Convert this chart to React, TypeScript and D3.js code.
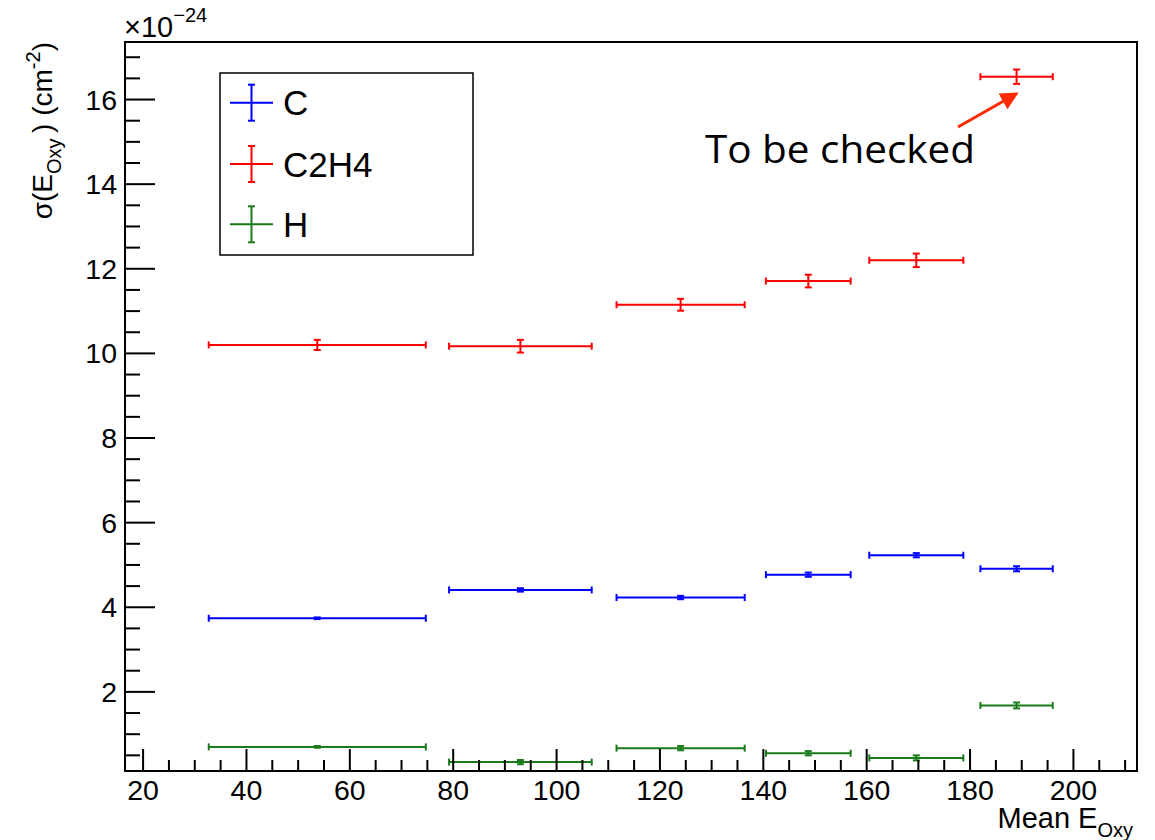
import React from "react";
import * as d3 from "d3";

const xCenters = [53.7, 93.0, 124.0, 148.7, 169.6, 189.0];
const xHalfWidths = [21.0, 13.8, 12.4, 8.2, 9.1, 7.0];

const cValues = [3.74, 4.41, 4.23, 4.77, 5.23, 4.91];
const cErrors = [0.02, 0.04, 0.04, 0.05, 0.05, 0.06];
const c2h4Values = [10.2, 10.17, 11.15, 11.71, 12.2, 16.54];
const c2h4Errors = [0.12, 0.15, 0.14, 0.15, 0.16, 0.17];
const hValues = [0.7, 0.34, 0.67, 0.55, 0.44, 1.68];
const hErrors = [0.02, 0.05, 0.05, 0.05, 0.06, 0.07];

const seriesNames = ["C", "C2H4", "H"];
const seriesColors = ["#0000ff", "#ff0000", "#1a7a1a"];

const xMajorTicks = [20, 40, 60, 80, 100, 120, 140, 160, 180, 200];
const yMajorTicks = [2, 4, 6, 8, 10, 12, 14, 16];

const W = 1155;
const H = 840;
const FONT = "'Liberation Sans', Arial, Helvetica, sans-serif";

export default function App() {
  const left = 125, right = 1137, top = 42, bottom = 771;
  const x = d3.scaleLinear().domain([16.5, 212.3]).range([left, right]);
  const y = d3.scaleLinear().domain([0.13, 17.36]).range([bottom, top]);

  const xMinor = d3.range(20, 211, 5).filter((v) => v % 20 !== 0);
  const yMinor = d3.range(0.5, 17.3, 0.5).filter((v) => v % 2 !== 0);

  const series = [
    { values: cValues, errors: cErrors },
    { values: c2h4Values, errors: c2h4Errors },
    { values: hValues, errors: hErrors },
  ];

  const cap = 3.5;
  const sw = 2;

  return (
    <svg
      width={W}
      height={H}
      style={{ position: "absolute", left: 0, top: 0, background: "#fff" }}
      fontFamily={FONT}
    >
      <rect x={0} y={0} width={W} height={H} fill="#fff" />
      {series.map((s, si) => (
        <g key={si} stroke={seriesColors[si]} strokeWidth={sw} fill="none">
          {s.values.map((v, i) => {
            const cx = x(xCenters[i]);
            const x0 = x(xCenters[i] - xHalfWidths[i]);
            const x1 = x(xCenters[i] + xHalfWidths[i]);
            const cy = y(v);
            const y0 = y(v - s.errors[i]);
            const y1 = y(v + s.errors[i]);
            return (
              <g key={i}>
                <line x1={x0} x2={x1} y1={cy} y2={cy} />
                <line x1={x0} x2={x0} y1={cy - cap} y2={cy + cap} />
                <line x1={x1} x2={x1} y1={cy - cap} y2={cy + cap} />
                <line x1={cx} x2={cx} y1={y0} y2={y1} />
                <line x1={cx - cap} x2={cx + cap} y1={y0} y2={y0} />
                <line x1={cx - cap} x2={cx + cap} y1={y1} y2={y1} />
              </g>
            );
          })}
        </g>
      ))}

      <rect x={left} y={top} width={right - left} height={bottom - top} fill="none" stroke="#000" strokeWidth={2} />

      <g stroke="#000" strokeWidth={2}>
        {xMajorTicks.map((t) => (
          <line key={"xm" + t} x1={x(t)} x2={x(t)} y1={bottom} y2={bottom - 22} />
        ))}
        {xMinor.map((t) => (
          <line key={"xn" + t} x1={x(t)} x2={x(t)} y1={bottom} y2={bottom - 11} />
        ))}
        {yMajorTicks.map((t) => (
          <line key={"ym" + t} x1={left} x2={left + 30} y1={y(t)} y2={y(t)} />
        ))}
        {yMinor.map((t) => (
          <line key={"yn" + t} x1={left} x2={left + 15} y1={y(t)} y2={y(t)} />
        ))}
      </g>

      <g fontSize={28.5} fill="#000">
        {xMajorTicks.map((t) => (
          <text key={"xl" + t} x={x(t)} y={800} textAnchor="middle">
            {t}
          </text>
        ))}
        {yMajorTicks.map((t) => (
          <text key={"yl" + t} x={117} y={y(t) + 10} textAnchor="end">
            {t}
          </text>
        ))}
      </g>

      <text x={124} y={37} fontSize={29} fill="#000">
        ×10
        <tspan dy={-15} fontSize={20}>−24</tspan>
      </text>

      <text x={1133} y={828} fontSize={29} textAnchor="end" fill="#000">
        Mean E
        <tspan dy={9} fontSize={20}>Oxy</tspan>
      </text>

      <text transform="translate(52,42) rotate(-90)" fontSize={28} textAnchor="end" fill="#000">
        σ(E
        <tspan dy={9} fontSize={20}>Oxy</tspan>
        <tspan dy={-9}>{"\u2009) (cm"}</tspan>
        <tspan dy={-12} fontSize={20}>-2</tspan>
        <tspan dy={12}>)</tspan>
      </text>

      <rect x={220} y={73} width={253} height={182} fill="#fff" stroke="#000" strokeWidth={1.5} />
      {seriesNames.map((n, i) => {
        const ly = [102.7, 164, 224.3][i];
        return (
          <g key={n}>
            <g stroke={seriesColors[i]} strokeWidth={sw}>
              <line x1={230} x2={273} y1={ly} y2={ly} />
              <line x1={251.5} x2={251.5} y1={ly - 18} y2={ly + 18} />
              <line x1={248} x2={255} y1={ly - 18} y2={ly - 18} />
              <line x1={248} x2={255} y1={ly + 18} y2={ly + 18} />
            </g>
            <text x={283} y={ly + 12.5} fontSize={35} fill="#000">
              {n}
            </text>
          </g>
        );
      })}

      <defs>
        <marker id="arrowhead" markerWidth="6" markerHeight="6" refX="5" refY="3" orient="auto" markerUnits="strokeWidth">
          <path d="M0,0 L6,3 L0,6 z" fill="#ff2a00" />
        </marker>
      </defs>
      <line x1={958} y1={127} x2={1016} y2={94} stroke="#ff2a00" strokeWidth={3} markerEnd="url(#arrowhead)" />
      <text
        x={705}
        y={163}
        fontSize={38}
        fill="#000"
        fontFamily="'Open Sans', 'Noto Sans', sans-serif"
        textLength={270}
        lengthAdjust="spacingAndGlyphs"
      >
        To be checked
      </text>
    </svg>
  );
}
